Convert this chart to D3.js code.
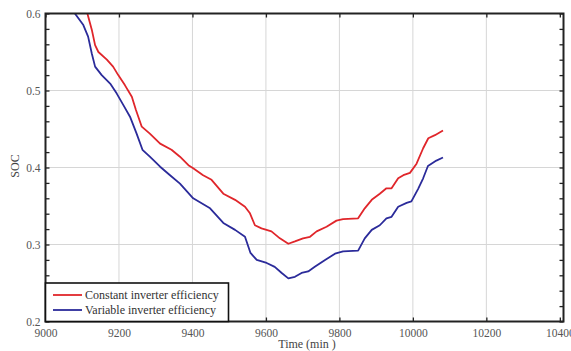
<!DOCTYPE html>
<html>
<head>
<meta charset="utf-8">
<script src="https://cdn.jsdelivr.net/npm/d3@7"></script>
<style>
  html, body { margin: 0; padding: 0; background: #fff; }
  svg { display: block; }
  text { font-family: "Liberation Serif", "DejaVu Serif", serif; }
</style>
</head>
<body>
<svg id="chart" width="571" height="351"></svg>
<script>
// Battery state of charge over time for two inverter models
const timeConst = [9114, 9126, 9135, 9144, 9167, 9184, 9198, 9216, 9235, 9246, 9262, 9284, 9312, 9343, 9366, 9389,
  9402, 9429, 9452, 9484, 9516, 9543, 9556, 9570, 9588, 9615, 9638, 9661, 9679, 9701, 9720, 9738, 9765, 9792,
  9810, 9851, 9869, 9888, 9910, 9928, 9942, 9960, 9974, 9992, 10010, 10028, 10042, 10060, 10082];
const socConst = [0.600, 0.579, 0.559, 0.550, 0.540, 0.531, 0.520, 0.507, 0.492, 0.475, 0.453, 0.444, 0.431, 0.423, 0.414, 0.403,
  0.399, 0.390, 0.384, 0.366, 0.358, 0.349, 0.341, 0.325, 0.321, 0.317, 0.308, 0.301, 0.304, 0.308, 0.310, 0.317, 0.323, 0.331,
  0.333, 0.334, 0.347, 0.358, 0.366, 0.373, 0.373, 0.386, 0.390, 0.393, 0.405, 0.425, 0.438, 0.442, 0.448];

const timeVar = [9080, 9103, 9116, 9126, 9135, 9153, 9176, 9194, 9212, 9230, 9248, 9264, 9284, 9312, 9339,
  9366, 9402, 9448, 9484, 9516, 9543, 9558, 9575, 9602, 9624, 9643, 9661, 9679, 9697, 9715, 9733, 9761, 9788,
  9810, 9851, 9869, 9888, 9910, 9928, 9942, 9960, 9983, 9996, 10014, 10028, 10041, 10064, 10082];
const socVar = [0.600, 0.585, 0.570, 0.548, 0.531, 0.520, 0.509, 0.496, 0.481, 0.466, 0.444, 0.423, 0.414, 0.401, 0.390,
  0.379, 0.360, 0.347, 0.328, 0.319, 0.310, 0.289, 0.280, 0.276, 0.271, 0.263, 0.256, 0.258, 0.263, 0.265, 0.271, 0.280, 0.288,
  0.291, 0.292, 0.308, 0.319, 0.325, 0.334, 0.336, 0.349, 0.354, 0.356, 0.372, 0.386, 0.402, 0.409, 0.413];

const xTicks = [9000, 9200, 9400, 9600, 9800, 10000, 10200, 10400];
const yTicks = [0.2, 0.3, 0.4, 0.5, 0.6];
const yMinorTicks = d3.range(0.2, 0.6001, 0.02);

const seriesNames = ["Constant inverter efficiency", "Variable inverter efficiency"];
const seriesColors = ["#e0262b", "#2b2b9a"];

const svg = d3.select("#chart");
const plotLeft = 45.5, plotRight = 563.5, plotTop = 13.5, plotBottom = 321.5;

const x = d3.scaleLinear().domain([9000, 10410]).range([plotLeft, plotRight]);
const y = d3.scaleLinear().domain([0.2, 0.6]).range([plotBottom, plotTop]);

// grid
const grid = svg.append("g").attr("stroke", "#d6d6d6").attr("stroke-width", 1);
grid.selectAll("line.gx").data(xTicks.filter(d => d > 9000 && d < 10400)).join("line")
  .attr("x1", d => x(d)).attr("x2", d => x(d)).attr("y1", plotTop).attr("y2", plotBottom);
grid.selectAll("line.gy").data(yTicks.filter(d => d > 0.2 && d < 0.6)).join("line")
  .attr("x1", plotLeft).attr("x2", plotRight).attr("y1", d => y(d)).attr("y2", d => y(d));

// curves
svg.append("clipPath").attr("id", "plotClip").append("rect")
  .attr("x", plotLeft).attr("y", plotTop).attr("width", plotRight - plotLeft).attr("height", plotBottom - plotTop);

const line = d3.line().x(d => x(d[0])).y(d => y(d[1])).curve(d3.curveLinear);
const series = [d3.zip(timeConst, socConst), d3.zip(timeVar, socVar)];
svg.append("g").attr("clip-path", "url(#plotClip)")
  .selectAll("path").data(series).join("path")
  .attr("d", line)
  .attr("fill", "none")
  .attr("stroke", (d, i) => seriesColors[i])
  .attr("stroke-width", 1.8)
  .attr("stroke-linejoin", "round");

// axes (ticks inward, box around plot)
const tickLen = 4;
const axisColor = "#222";
const xb = d3.axisBottom(x).tickValues(xTicks).tickSize(-tickLen).tickPadding(7.5).tickFormat(d3.format("d"));
const xt = d3.axisTop(x).tickValues(xTicks).tickSize(-tickLen).tickFormat("");
const yl = d3.axisLeft(y).tickValues(yMinorTicks).tickSize(-tickLen).tickPadding(5)
  .tickFormat(d => yTicks.some(t => Math.abs(t - d) < 1e-9) ? d3.format(".1f")(d) : "");
const yr = d3.axisRight(y).tickValues(yMinorTicks).tickSize(-tickLen).tickFormat("");

function styleAxis(g) {
  g.select(".domain").remove();
  g.selectAll(".tick line").attr("stroke", axisColor).attr("stroke-width", 1.3);
  g.selectAll(".tick text").attr("fill", "#555").attr("font-size", 11.5)
    .attr("font-family", "'Liberation Serif', serif");
}
svg.append("g").attr("transform", `translate(0,${plotBottom})`).call(xb).call(styleAxis);
svg.append("g").attr("transform", `translate(0,${plotTop})`).call(xt).call(styleAxis);
svg.append("g").attr("transform", `translate(${plotLeft},0)`).call(yl).call(styleAxis);
svg.append("g").attr("transform", `translate(${plotRight},0)`).call(yr).call(styleAxis);

svg.append("rect").attr("x", plotLeft).attr("y", plotTop).attr("width", plotRight - plotLeft).attr("height", plotBottom - plotTop)
  .attr("fill", "none").attr("stroke", axisColor).attr("stroke-width", 2);

// axis titles
svg.append("text").attr("x", 307).attr("y", 348).attr("text-anchor", "middle")
  .attr("font-size", 12).attr("fill", "#444").text("Time (min )");
svg.append("text").attr("transform", "translate(19,166) rotate(-90)").attr("text-anchor", "middle")
  .attr("font-size", 12).attr("fill", "#444").text("SOC");

// legend
const lg = svg.append("g");
lg.append("rect").attr("x", plotLeft).attr("y", 283).attr("width", 183).attr("height", plotBottom - 283)
  .attr("fill", "#fff").attr("stroke", "#111").attr("stroke-width", 1.6);
seriesNames.forEach((name, i) => {
  const cy = 295 + i * 15;
  lg.append("line").attr("x1", 53).attr("x2", 82).attr("y1", cy).attr("y2", cy)
    .attr("stroke", seriesColors[i]).attr("stroke-width", 1.8);
  lg.append("text").attr("x", 85).attr("y", cy + 4).attr("font-size", 12)
    .attr("fill", "#333").text(name);
});
</script>
</body>
</html>
